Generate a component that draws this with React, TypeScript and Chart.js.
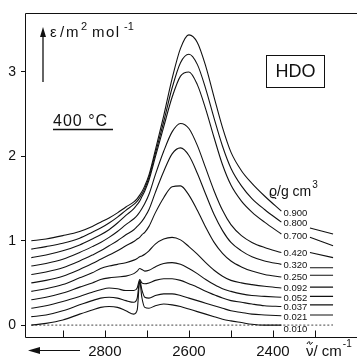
import React, { useEffect, useRef } from "react";
import { Chart, registerables } from "chart.js";

Chart.register(...registerables);

// wavenumber grid (cm^-1)
const WAVENUMBERS = [2975, 2940, 2900, 2860, 2830, 2810, 2790, 2770, 2750, 2731, 2723, 2717, 2712, 2705, 2695, 2680, 2660, 2640, 2620, 2600, 2580, 2560, 2540, 2520, 2500, 2475, 2450, 2420, 2380];

const DENSITIES = ["0.900", "0.800", "0.700", "0.420", "0.320", "0.250", "0.092", "0.052", "0.037", "0.021", "0.010"];

const EPS_0900 = [1.00, 1.02, 1.06, 1.11, 1.17, 1.22, 1.27, 1.33, 1.40, 1.46, 1.50, 1.54, 1.58, 1.65, 1.78, 2.07, 2.48, 2.92, 3.28, 3.44, 3.35, 3.07, 2.70, 2.34, 2.05, 1.83, 1.68, 1.53, 1.35];
const EPS_0800 = [0.90, 0.93, 0.97, 1.03, 1.10, 1.15, 1.21, 1.28, 1.36, 1.43, 1.47, 1.51, 1.55, 1.62, 1.75, 2.03, 2.41, 2.81, 3.11, 3.21, 3.09, 2.80, 2.45, 2.12, 1.86, 1.65, 1.50, 1.37, 1.22];
const EPS_0700 = [0.80, 0.83, 0.88, 0.95, 1.02, 1.07, 1.13, 1.21, 1.30, 1.38, 1.43, 1.47, 1.52, 1.59, 1.72, 1.99, 2.35, 2.70, 2.95, 3.00, 2.85, 2.56, 2.22, 1.90, 1.66, 1.47, 1.34, 1.22, 1.08];
const EPS_0420 = [0.70, 0.73, 0.78, 0.86, 0.93, 0.98, 1.04, 1.11, 1.19, 1.26, 1.30, 1.34, 1.38, 1.44, 1.55, 1.78, 2.06, 2.29, 2.39, 2.33, 2.13, 1.86, 1.59, 1.36, 1.19, 1.06, 0.98, 0.92, 0.86];
const EPS_0320 = [0.60, 0.63, 0.68, 0.76, 0.83, 0.88, 0.94, 1.00, 1.07, 1.13, 1.17, 1.20, 1.23, 1.28, 1.37, 1.57, 1.82, 2.03, 2.10, 2.01, 1.80, 1.55, 1.31, 1.12, 0.98, 0.88, 0.81, 0.76, 0.72];
const EPS_0250 = [0.50, 0.53, 0.58, 0.66, 0.73, 0.78, 0.83, 0.88, 0.94, 0.99, 1.02, 1.04, 1.07, 1.10, 1.17, 1.33, 1.51, 1.64, 1.65, 1.54, 1.36, 1.16, 0.98, 0.85, 0.76, 0.69, 0.64, 0.60, 0.57];
const EPS_0092 = [0.40, 0.43, 0.48, 0.56, 0.62, 0.67, 0.70, 0.72, 0.74, 0.77, 0.79, 0.81, 0.82, 0.84, 0.88, 0.96, 1.02, 1.04, 1.01, 0.93, 0.84, 0.74, 0.65, 0.58, 0.53, 0.50, 0.48, 0.46, 0.44];
const EPS_0052 = [0.30, 0.33, 0.38, 0.45, 0.50, 0.54, 0.56, 0.57, 0.58, 0.61, 0.64, 0.67, 0.66, 0.64, 0.65, 0.69, 0.73, 0.74, 0.72, 0.67, 0.61, 0.54, 0.48, 0.43, 0.40, 0.37, 0.35, 0.34, 0.33];
const EPS_0037 = [0.20, 0.23, 0.28, 0.34, 0.39, 0.42, 0.44, 0.43, 0.41, 0.41, 0.44, 0.54, 0.50, 0.49, 0.50, 0.53, 0.55, 0.55, 0.53, 0.49, 0.45, 0.40, 0.36, 0.32, 0.29, 0.27, 0.25, 0.23, 0.22];
const EPS_0021 = [0.10, 0.12, 0.17, 0.24, 0.29, 0.32, 0.33, 0.32, 0.29, 0.27, 0.32, 0.53, 0.42, 0.33, 0.32, 0.35, 0.37, 0.37, 0.35, 0.32, 0.29, 0.26, 0.23, 0.20, 0.17, 0.15, 0.13, 0.12, 0.11];
const EPS_0010 = [0.00, 0.02, 0.06, 0.13, 0.18, 0.21, 0.22, 0.21, 0.17, 0.13, 0.18, 0.52, 0.33, 0.21, 0.20, 0.23, 0.25, 0.24, 0.22, 0.19, 0.16, 0.13, 0.10, 0.07, 0.05, 0.03, 0.01, 0.00, 0.00];

// short continuation segments right of the density labels
const TAIL_WAVENUMBERS = [2312, 2257];
const TAIL_0900: number[] = [];
const TAIL_0800 = [1.15, 1.08];
const TAIL_0700 = [1.04, 0.94];
const TAIL_0420 = [0.86, 0.80];
const TAIL_0320 = [0.68, 0.68];
const TAIL_0250 = [0.59, 0.59];
const TAIL_0092 = [0.45, 0.45];
const TAIL_0052 = [0.34, 0.34];
const TAIL_0037 = [0.24, 0.24];
const TAIL_0021 = [0.12, 0.12];
const TAIL_0010: number[] = [];

// level (in epsilon units) at which each density label sits
const LABEL_LEVELS = [1.33, 1.20, 1.05, 0.85, 0.71, 0.56, 0.44, 0.32, 0.21, 0.09, -0.05];
const LABEL_WAVENUMBER = 2375;

const ZERO_LINE_X = [2975, 2257];
const X_TICKS = [2900, 2800, 2700, 2600, 2500, 2400, 2300];
const X_TICK_LABELS = [2800, 2600, 2400];
const Y_TICKS = [0, 1, 2, 3];

const SERIES = [EPS_0900, EPS_0800, EPS_0700, EPS_0420, EPS_0320, EPS_0250, EPS_0092, EPS_0052, EPS_0037, EPS_0021, EPS_0010];
const TAILS = [TAIL_0900, TAIL_0800, TAIL_0700, TAIL_0420, TAIL_0320, TAIL_0250, TAIL_0092, TAIL_0052, TAIL_0037, TAIL_0021, TAIL_0010];

const INK = "#111";
const FONT = '"Liberation Sans", Arial, sans-serif';

const overlay = {
  id: "overlay",
  afterDraw(chart: any) {
    const { ctx, chartArea: a, scales } = chart;
    const xs = scales.x;
    const ys = scales.y;
    ctx.save();
    ctx.strokeStyle = INK;
    ctx.fillStyle = INK;
    ctx.lineWidth = 1;
    const line = (x1: number, y1: number, x2: number, y2: number) => {
      ctx.beginPath();
      ctx.moveTo(x1, y1);
      ctx.lineTo(x2, y2);
      ctx.stroke();
    };
    const L = Math.round(a.left) + 0.5;
    const T = Math.round(a.top) + 0.5;
    const B = Math.round(a.bottom) + 0.5;
    // frame
    line(L, T, L, B);
    line(L, T, 357, T);
    line(L, B, 357, B);
    // inward x ticks
    X_TICKS.forEach((v) => {
      const px = Math.round(xs.getPixelForValue(v)) + 0.5;
      line(px, B, px, B - 7);
    });

    // density labels
    ctx.font = `9.5px ${FONT}`;
    ctx.textAlign = "left";
    ctx.textBaseline = "middle";
    const lx = xs.getPixelForValue(LABEL_WAVENUMBER);
    DENSITIES.forEach((d, i) => {
      ctx.fillText(d, lx, ys.getPixelForValue(LABEL_LEVELS[i]));
    });

    // y-axis label with arrow
    ctx.lineWidth = 1.3;
    line(43, 82, 43, 34);
    ctx.beginPath();
    ctx.moveTo(43, 27);
    ctx.lineTo(40, 37);
    ctx.lineTo(46, 37);
    ctx.closePath();
    ctx.fill();
    ctx.lineWidth = 1;
    ctx.textBaseline = "alphabetic";
    ctx.font = `15px ${FONT}`;
    ctx.fillText("ε", 50, 37);
    ctx.fillText("/", 60, 37);
    ctx.fillText("m", 66, 37);
    ctx.font = `11px ${FONT}`;
    ctx.fillText("2", 81, 30);
    ctx.font = `15px ${FONT}`;
    (ctx as any).letterSpacing = "1.5px";
    ctx.fillText("mol", 92, 37);
    (ctx as any).letterSpacing = "0px";
    ctx.font = `11px ${FONT}`;
    ctx.fillText("-1", 124, 30);

    // temperature
    ctx.font = `16px ${FONT}`;
    (ctx as any).letterSpacing = "1px";
    ctx.fillText("400 °C", 53, 126);
    (ctx as any).letterSpacing = "0px";
    ctx.lineWidth = 1.4;
    line(53, 129.5, 113, 129.5);
    ctx.lineWidth = 1;

    // HDO box
    ctx.strokeRect(266.5, 55.5, 58, 32);
    ctx.font = `18px ${FONT}`;
    ctx.textAlign = "center";
    ctx.textBaseline = "middle";
    ctx.fillText("HDO", 295.5, 72);

    // density title
    ctx.textAlign = "left";
    ctx.textBaseline = "alphabetic";
    ctx.font = `14px ${FONT}`;
    let dx = 269;
    ctx.fillText("ϱ/g cm", dx, 196);
    dx += ctx.measureText("ϱ/g cm").width + 1;
    ctx.font = `10px ${FONT}`;
    ctx.fillText("3", dx, 188);

    // direction arrow under axis
    line(40, 350.5, 80, 350.5);
    ctx.beginPath();
    ctx.moveTo(28, 350.5);
    ctx.lineTo(40, 347);
    ctx.lineTo(40, 354);
    ctx.closePath();
    ctx.fill();

    // x-axis title: nu with tilde
    ctx.font = `15px ${FONT}`;
    let tx = 306;
    ctx.fillText("ν", tx, 356);
    const nuW = ctx.measureText("ν").width;
    ctx.beginPath();
    ctx.moveTo(tx + 1, 344);
    ctx.bezierCurveTo(tx + 2.5, 341, tx + 4, 341, tx + nuW / 2, 343);
    ctx.bezierCurveTo(tx + nuW - 4, 345, tx + nuW - 2.5, 345, tx + nuW - 1, 342);
    ctx.stroke();
    tx += nuW;
    ctx.fillText("/ cm", tx, 356);
    tx += ctx.measureText("/ cm").width + 1;
    ctx.font = `10px ${FONT}`;
    ctx.fillText("-1", tx, 347);

    ctx.restore();
  },
};

export default function App() {
  const canvasRef = useRef<HTMLCanvasElement | null>(null);

  useEffect(() => {
    const canvas = canvasRef.current;
    if (!canvas) return;

    const datasets: any[] = SERIES.map((vals, i) => {
      const pts: any[] = WAVENUMBERS.map((w, j) => ({ x: w, y: vals[j] }));
      const tail = TAILS[i];
      if (tail.length) {
        pts.push({ x: 2345, y: null });
        TAIL_WAVENUMBERS.forEach((w, j) => pts.push({ x: w, y: tail[j] }));
      }
      return {
        label: DENSITIES[i],
        data: pts,
        borderColor: INK,
        borderWidth: 1.1,
        pointRadius: 0,
        fill: false,
        spanGaps: false,
        cubicInterpolationMode: "monotone",
      };
    });
    datasets.push({
      label: "zero",
      data: ZERO_LINE_X.map((w) => ({ x: w, y: 0 })),
      borderColor: "#444",
      borderWidth: 1,
      borderDash: [2, 2],
      pointRadius: 0,
      fill: false,
    });

    const chart = new Chart(canvas, {
      type: "line",
      data: { datasets },
      options: {
        animation: false,
        responsive: false,
        maintainAspectRatio: false,
        devicePixelRatio: 1,
        layout: { padding: { left: 0, top: 11, right: 22, bottom: 0 } },
        plugins: { legend: { display: false }, tooltip: { enabled: false } },
        scales: {
          x: {
            type: "linear",
            reverse: true,
            min: 2250,
            max: 2990,
            grid: { display: false, drawTicks: false },
            border: { display: false },
            afterBuildTicks: (s: any) => {
              s.ticks = X_TICKS.map((v) => ({ value: v }));
            },
            afterFit: (s: any) => {
              s.height = 21;
            },
            ticks: {
              autoSkip: false,
              maxRotation: 0,
              padding: 6,
              color: INK,
              font: { family: FONT, size: 15 },
              callback: (v: any) => (X_TICK_LABELS.includes(Number(v)) ? String(v) : ""),
            },
          },
          y: {
            type: "linear",
            min: -0.141,
            max: 3.694,
            grid: { display: true, drawOnChartArea: false, drawTicks: true, tickLength: 4, color: INK },
            border: { display: false },
            afterBuildTicks: (s: any) => {
              s.ticks = Y_TICKS.map((v) => ({ value: v }));
            },
            afterFit: (s: any) => {
              s.width = 25;
            },
            ticks: {
              padding: 5,
              color: INK,
              font: { family: FONT, size: 14 },
            },
          },
        },
      },
      plugins: [overlay],
    });

    return () => chart.destroy();
  }, []);

  return (
    <div style={{ position: "fixed", left: 0, top: 0, width: 358, height: 358, background: "#fff" }}>
      <canvas ref={canvasRef} width={358} height={358} style={{ display: "block", width: 358, height: 358 }} />
    </div>
  );
}
